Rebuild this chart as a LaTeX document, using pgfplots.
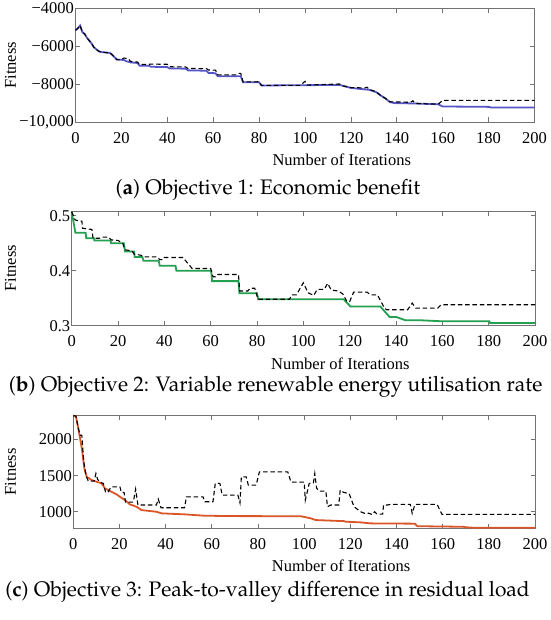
\documentclass[border=0pt]{standalone}
\usepackage[T1]{fontenc}
\usepackage{fontspec}
\setmainfont{Liberation Serif}
\usepackage{pgfplots}
\pgfplotsset{compat=1.18}
\newcommand{\capfont}{\fontencoding{T1}\fontfamily{ppl}\fontsize{21}{25}\selectfont}
\definecolor{cblue}{RGB}{85,85,200}
\definecolor{cgreen}{RGB}{35,160,80}
\definecolor{corange}{RGB}{218,85,40}
\pgfplotsset{
  myaxis/.style={
    scale only axis, anchor=south west,
    xmin=0, xmax=200, xtick={0,20,...,200},
    scaled y ticks=false, scaled x ticks=false,
    tick align=inside, xtick pos=both, ytick pos=both,
    major tick length=4.5pt,
    axis line style={draw=black!55, line width=0.8pt},
    every tick/.append style={draw=black!55, line width=0.8pt},
    tick label style={font=\fontsize{16.5}{19}\selectfont, text=black},
    xticklabel style={yshift=-6.5pt},
    yticklabel style={xshift=2pt},
    label style={font=\fontsize{16.5}{19}\selectfont},
    /pgf/number format/assume math mode=true,
    /pgf/number format/1000 sep={},
    xlabel={Number of Iterations}, ylabel={Fitness},
    xlabel style={at={(axis description cs:0.58,0)}, anchor=center, yshift=-38pt},
    clip=false,
  },
  dline/.style={black, line width=1.1pt, dash pattern=on 4.5pt off 2.8pt},
}
\begin{document}
\begin{tikzpicture}
\useasboundingbox (0pt,0pt) rectangle (550pt,-620pt);
% ---------------- (a)
\begin{axis}[myaxis, at={(75.5pt,-122pt)}, width=459pt, height=113.5pt,
  ymin=-10000, ymax=-4000, ytick={-10000,-8000,-6000,-4000},
  yticklabels={{−10,000},{−8000},{−6000},{−4000}},
  ylabel style={at={(axis description cs:-0.1416,0.5)}, anchor=center}]
\addplot[cblue, line width=1.8pt] coordinates {
(0,-5150)(1,-5050)(2,-4900)(3,-5250)(4,-5350)(5,-5550)(6,-5700)(7,-5850)(8,-6050)(9,-6150)(10,-6250)(11,-6300)(15,-6350)(16,-6450)(18,-6700)(21,-6720)(22,-6780)(24,-6850)(27,-6880)(28,-7030)(32,-7030)(33,-7080)(40,-7100)(41,-7170)(48,-7180)(49,-7270)(57,-7290)(58,-7410)(61,-7420)(62,-7580)(72,-7580)(73,-7900)(80,-7900)(81,-8070)(115,-8040)(117,-8100)(120,-8200)(128,-8300)(131,-8420)(133,-8600)(135,-8750)(137,-8950)(139,-9000)(147,-9020)(158,-9060)(160,-9180)(180,-9200)(181,-9230)(200,-9230)};
\addplot[dline] coordinates {
(0,-5150)(1,-5050)(2,-4900)(3,-5250)(4,-5350)(5,-5550)(6,-5700)(7,-5850)(8,-6050)(9,-6150)(10,-6250)(11,-6300)(15,-6350)(16,-6450)(18,-6700)(20,-6700)(21,-6620)(23,-6650)(24,-6800)(27,-6830)(28,-6950)(32,-6950)(33,-6940)(40,-6950)(41,-7080)(48,-7090)(49,-7170)(57,-7180)(58,-7250)(61,-7260)(62,-7510)(70,-7510)(71,-7430)(72,-7430)(73,-7880)(78,-7880)(80,-7870)(81,-8060)(98,-8060)(100,-7850)(101,-8050)(113,-8000)(115,-7990)(116,-8080)(120,-8180)(126,-8200)(127,-8160)(128,-8280)(131,-8400)(133,-8600)(135,-8750)(137,-8930)(146,-8960)(147,-8880)(148,-9020)(158,-9060)(160,-8860)(200,-8860)};
\end{axis}
% ---------------- (b)
\begin{axis}[myaxis, at={(71.7pt,-325.7pt)}, width=463.3pt, height=114.7pt,
  ymin=0.3, ymax=0.5085, ytick={0.3,0.4,0.5},
  yticklabels={0.3,0.4,0.5},
  ylabel style={at={(axis description cs:-0.132,0.5)}, anchor=center}]
\addplot[cgreen, line width=1.8pt] coordinates {
(0,0.507)(1.6,0.469)(6,0.469)(6.3,0.459)(9.6,0.459)(9.8,0.455)(16.8,0.455)(17,0.450)(22.5,0.450)(23,0.435)(26.9,0.435)(27.2,0.425)(30.5,0.425)(31,0.418)(37.6,0.418)(38,0.409)(44.8,0.409)(45.2,0.400)(60.2,0.400)(60.6,0.381)(72,0.381)(72.4,0.359)(80,0.359)(80.5,0.348)(117.4,0.348)(120.3,0.335)(133.2,0.335)(137.2,0.316)(140,0.316)(144,0.310)(150,0.310)(160,0.308)(180.3,0.308)(180.6,0.305)(200,0.305)};
\addplot[dline] coordinates {
(0,0.507)(1.5,0.492)(4.4,0.490)(4.7,0.477)(8.7,0.475)(9.2,0.459)(12,0.459)(13,0.461)(16,0.461)(17,0.456)(20,0.455)(22,0.450)(23,0.438)(26,0.436)(27,0.430)(30,0.428)(31,0.425)(37,0.425)(38,0.420)(39.5,0.420)(40,0.424)(48,0.424)(50,0.414)(52,0.404)(60,0.404)(61,0.389)(62,0.389)(63,0.393)(72,0.393)(72.5,0.363)(76,0.363)(77,0.368)(79,0.368)(80.5,0.348)(94,0.348)(95,0.356)(97,0.356)(100,0.378)(102,0.360)(104.5,0.355)(106,0.366)(109,0.366)(110.5,0.377)(112,0.365)(115,0.363)(117,0.358)(118.8,0.344)(120,0.344)(121.7,0.361)(127.5,0.361)(129,0.356)(132,0.356)(134,0.340)(135,0.332)(136,0.329)(145,0.329)(147,0.341)(148.5,0.332)(158,0.332)(159.5,0.338)(200,0.338)};
\end{axis}
% ---------------- (c)
\begin{axis}[myaxis, at={(73.3pt,-528pt)}, width=461.7pt, height=112.3pt,
  ymin=775, ymax=2330, ytick={1000,1500,2000},
  ylabel style={at={(axis description cs:-0.136,0.5)}, anchor=center}]
\addplot[corange, line width=1.8pt] coordinates {
(0,2330)(1.1,2326)(2.2,2152)(3.7,1876)(4.8,1600)(5.8,1484)(8,1438)(12.3,1392)(13.7,1323)(16.6,1276)(18.8,1240)(20.2,1207)(22.4,1162)(24.5,1102)(27.4,1069)(29.6,1023)(36,1000)(38.2,978)(48.2,964)(56.9,945)(70,940)(98.6,938)(102.9,909)(105,885)(117.3,870)(118,862)(124.5,853)(128.8,839)(148,835)(149,800)(169,792)(170,785)(174,778)(200,778)};
\addplot[dline] coordinates {
(0,2330)(1.1,2326)(2.2,2150)(3,2059)(3.7,2059)(4.5,1700)(5.5,1500)(6.5,1424)(9,1424)(9.8,1530)(10.5,1450)(11.5,1410)(13,1392)(14,1268)(15,1268)(16.3,1345)(20.2,1345)(20.8,1268)(22,1268)(22.6,1134)(26,1134)(27,1313)(28,1093)(36,1093)(36.8,1175)(38,1055)(48.2,1055)(49,1207)(56.2,1207)(57,1138)(60.5,1138)(61.5,1392)(63.5,1392)(64.5,1230)(71.3,1230)(72.2,1124)(72.8,1484)(74.9,1484)(75.8,1369)(79.2,1369)(80.6,1552)(92.9,1552)(94.3,1410)(100,1410)(100.5,1162)(102.2,1392)(104,1400)(104.6,1530)(105.4,1327)(106.4,1285)(109.4,1285)(110.1,1070)(111.5,1093)(115,1093)(115.6,1300)(117,1270)(119.5,1250)(121.6,1070)(124.5,1000)(126,980)(128,980)(129.5,960)(130.5,1000)(131.5,968)(134,968)(134.4,1093)(136,1093)(137.4,1102)(146,1102)(146.8,978)(148,1102)(157.6,1102)(159.7,964)(200,964)};
\end{axis}
% captions
\node[font=\capfont] at (268pt,-190pt) {(\textbf{a}) Objective 1: Economic benefit};
\node[font=\capfont] at (275.6pt,-386.5pt) {(\textbf{b}) Objective 2: Variable renewable energy utilisation rate};
\node[font=\capfont] at (267.6pt,-591.5pt) {(\textbf{c}) Objective 3: Peak-to-valley difference in residual load};
\end{tikzpicture}
\end{document}
